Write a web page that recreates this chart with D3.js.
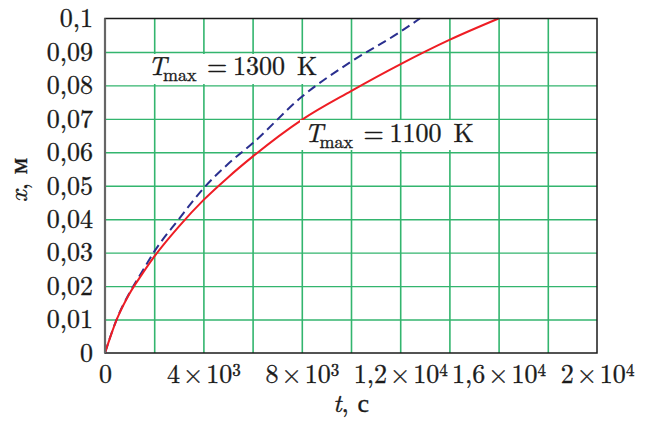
<!DOCTYPE html>
<html>
<head>
<meta charset="utf-8">
<script src="https://cdn.jsdelivr.net/npm/d3@7"></script>
<style>
body{margin:0;background:#fff}
</style>
</head>
<body>
<svg width="648" height="421"></svg>
<script>
// data
const tRed = [0, 250, 500, 1000, 1500, 2000, 3000, 4000, 5000, 6000, 8000, 10000, 12000, 14000, 16000]
const xRed = [0, 0.0055, 0.0104, 0.0178, 0.0235, 0.0288, 0.0378, 0.0457, 0.0525, 0.0587, 0.0697, 0.0783, 0.0863, 0.0936, 0.1]
const tBlue = [0, 250, 500, 1000, 1500, 2000, 3000, 4000, 5000, 6000, 8000, 10000, 12000, 12800]
const xBlue = [0, 0.0056, 0.0105, 0.018, 0.0242, 0.0303, 0.040, 0.0492, 0.0565, 0.0627, 0.0766, 0.0871, 0.096, 0.1]
const xTicks = [0, 4000, 8000, 12000, 16000, 20000]
const xTickMant = ["0", "4", "8", "1,2", "1,6", "2"]
const xTickExp = ["", "3", "3", "4", "4", "4"]
const yTicks = [0, 0.01, 0.02, 0.03, 0.04, 0.05, 0.06, 0.07, 0.08, 0.09, 0.1]
const yTickLabels = ["0", "0,01", "0,02", "0,03", "0,04", "0,05", "0,06", "0,07", "0,08", "0,09", "0,1"]
const labelTemps = ["1300", "1100"]

const FONT = "'Latin Modern Roman', 'Liberation Serif', serif"
const INK = "#1a1a1a"

const svg = d3.select("svg")
const mLeft = 105, mTop = 18.5, mRight = 597, mBottom = 353
const width = mRight - mLeft
const height = mBottom - mTop

const xScale = d3.scaleLinear().domain([0, 20000]).range([0, width])
const yScale = d3.scaleLinear().domain([0, 0.1]).range([height, 0])

const g = svg.append("g").attr("transform", "translate(" + mLeft + "," + mTop + ")")

const green = "#33b56e"

// grid
g.append("g")
.attr("transform", "translate(0," + height + ")")
.call(d3.axisBottom(xScale).tickValues(d3.range(2000, 20000, 2000)).tickSize(-height).tickFormat(""))
.call(a => a.select(".domain").remove())
.selectAll("line").attr("stroke", green).attr("stroke-width", 1.6)

g.append("g")
.call(d3.axisLeft(yScale).tickValues(d3.range(1, 10).map(d => d / 100)).tickSize(-width).tickFormat(""))
.call(a => a.select(".domain").remove())
.selectAll("line").attr("stroke", green).attr("stroke-width", 1.4)

// curves
const line = d3.line()
.x(d => xScale(d[0]))
.y(d => yScale(d[1]))
.curve(d3.curveMonotoneX)

g.append("path")
.datum(tBlue.map((t, i) => [t, xBlue[i]]))
.attr("d", line)
.attr("fill", "none")
.attr("stroke", "#2a2f8f")
.attr("stroke-width", 2)
.attr("stroke-dasharray", "9,5")

g.append("path")
.datum(tRed.map((t, i) => [t, xRed[i]]))
.attr("d", line)
.attr("fill", "none")
.attr("stroke", "#ee1d24")
.attr("stroke-width", 2)

// annotation with white background under it
function label(x, y, value, box){
  g.append("rect")
  .attr("x", box[0] - mLeft).attr("y", box[1] - mTop)
  .attr("width", box[2]).attr("height", box[3])
  .attr("fill", "#fff")
  const x0 = x - mLeft, y0 = y - mTop
  const t = g.append("text").attr("y", y0).style("font-size", "26px")
  t.append("tspan").attr("x", x0).text("T").style("font-style", "italic")
  t.append("tspan").attr("x", x0 + 15).attr("dy", 6).text("max").style("font-size", "18px")
  t.append("tspan").attr("x", x0 + 59).attr("dy", -6).text("=")
  t.append("tspan").attr("x", x0 + 85).text(value)
  t.append("tspan").attr("x", x0 + 149).text("K")
}
label(148, 75, labelTemps[0], [143, 54, 176, 30])
label(304.5, 141.5, labelTemps[1], [300, 120, 176, 30])

// frame
g.append("rect")
.attr("width", width).attr("height", height)
.attr("fill", "none").attr("stroke", INK).attr("stroke-width", 1.5)
g.append("line")
.attr("x1", 0).attr("x2", 0).attr("y1", 0).attr("y2", height)
.attr("stroke", "#666").attr("stroke-width", 2.2)

// tick labels
const xAxis = g.append("g")
.attr("transform", "translate(0," + height + ")")
.call(d3.axisBottom(xScale).tickValues(xTicks).tickSize(0).tickPadding(12))
xAxis.select(".domain").remove()
xAxis.selectAll("text")
.style("font-size", "26px")
.attr("dy", "0.71em")
.text("")
.each(function(d, i){
  const s = d3.select(this)
  s.append("tspan").text(xTickMant[i])
  if (xTickExp[i]){
    s.append("tspan").attr("dx", 3).text("×")
    s.append("tspan").attr("dx", 3).text("10")
    s.append("tspan").attr("dy", -7).style("font-size", "17px").text(xTickExp[i])
  }
})

const yAxis = g.append("g")
.call(d3.axisLeft(yScale).tickValues(yTicks).tickSize(0).tickPadding(12).tickFormat((d, i) => yTickLabels[i]))
yAxis.select(".domain").remove()
yAxis.selectAll("text").style("font-size", "26px")

// titles
const yt = svg.append("text")
.attr("transform", "translate(27,180) rotate(-90)")
.attr("text-anchor", "middle")
.style("font-size", "26px")
yt.append("tspan").text("x").style("font-style", "italic")
yt.append("tspan").text(",  м")

const xt = svg.append("text")
.attr("x", 351).attr("y", 412)
.attr("text-anchor", "middle")
.style("font-size", "26px")
xt.append("tspan").text("t").style("font-style", "italic")
xt.append("tspan").text(",  с")

svg.selectAll("text")
.style("font-family", FONT)
.style("fill", INK)
.style("stroke", INK)
.style("stroke-width", 0.35)
</script>
</body>
</html>
